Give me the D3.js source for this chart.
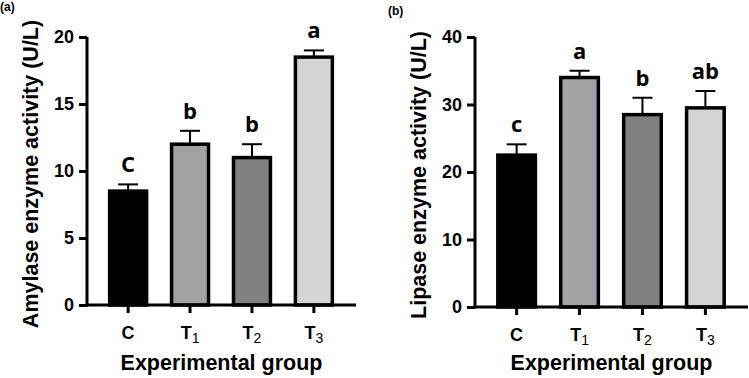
<!DOCTYPE html>
<html>
<head>
<meta charset="utf-8">
<script src="https://cdn.jsdelivr.net/npm/d3@7"></script>
<style>
  body { margin: 0; background: #fff; }
  svg text { font-family: "Liberation Sans", Arial, sans-serif; fill: #000; }
</style>
</head>
<body>
<div id="chart"></div>
<script>
const groups = ["C", "T1", "T2", "T3"];
const barColors = ["#000000", "#a2a2a6", "#808080", "#d4d4d4"];

const amylaseMean = [8.5, 12, 11, 18.5];
const amylaseErr = [0.5, 1.0, 1.0, 0.5];
const amylaseLetters = ["C", "b", "b", "a"];
const amylaseTicks = [0, 5, 10, 15, 20];

const lipaseMean = [22.5, 34, 28.5, 29.5];
const lipaseErr = [1.6, 1.0, 2.5, 2.5];
const lipaseLetters = ["c", "a", "b", "ab"];
const lipaseTicks = [0, 10, 20, 30, 40];

const svg = d3.select("#chart")
  .append("svg")
  .attr("width", 749)
  .attr("height", 378);

function drawPanel(opt) {
  const g = svg.append("g");

  const x = d3.scaleBand()
    .domain(groups)
    .range([opt.left + 10, opt.right - 11])
    .paddingInner(0.355)
    .paddingOuter(0.18);

  const y = d3.scaleLinear()
    .domain([0, opt.max])
    .range([opt.bottom, opt.top]);

  // bars
  g.selectAll("rect.bar")
    .data(groups)
    .join("rect")
    .attr("class", "bar")
    .attr("x", d => x(d) + 1.5)
    .attr("y", (d, i) => y(opt.mean[i]))
    .attr("width", x.bandwidth() - 3)
    .attr("height", (d, i) => opt.bottom - y(opt.mean[i]))
    .attr("fill", (d, i) => barColors[i])
    .attr("stroke", "#000")
    .attr("stroke-width", 3.5);

  // error bars (upper only)
  const eb = g.selectAll("g.err")
    .data(groups)
    .join("g")
    .attr("class", "err");
  eb.append("line")
    .attr("x1", d => x(d) + x.bandwidth() / 2)
    .attr("x2", d => x(d) + x.bandwidth() / 2)
    .attr("y1", (d, i) => y(opt.mean[i]))
    .attr("y2", (d, i) => y(opt.mean[i] + opt.err[i]))
    .attr("stroke", "#000")
    .attr("stroke-width", 2);
  eb.append("line")
    .attr("x1", d => x(d) + x.bandwidth() / 2 - 10)
    .attr("x2", d => x(d) + x.bandwidth() / 2 + 10)
    .attr("y1", (d, i) => y(opt.mean[i] + opt.err[i]))
    .attr("y2", (d, i) => y(opt.mean[i] + opt.err[i]))
    .attr("stroke", "#000")
    .attr("stroke-width", 2);

  // significance letters
  g.selectAll("text.sig")
    .data(groups)
    .join("text")
    .attr("class", "sig")
    .attr("x", d => x(d) + x.bandwidth() / 2)
    .attr("y", (d, i) => y(opt.mean[i] + opt.err[i]) - 12)
    .attr("text-anchor", "middle")
    .style("font-family", "'Open Sans', sans-serif")
    .style("font-size", "22px")
    .style("font-weight", "bold")
    .text((d, i) => opt.letters[i]);

  // y axis
  const yAxis = g.append("g")
    .attr("transform", `translate(${opt.left},0)`)
    .call(d3.axisLeft(y).tickValues(opt.ticks).tickSize(8).tickPadding(5).tickSizeOuter(0));
  yAxis.select(".domain").attr("stroke-width", 3).attr("d", `M0,${opt.bottom + 1.5}V${opt.top}`);
  yAxis.selectAll(".tick line").attr("stroke-width", 3);
  yAxis.selectAll(".tick text")
    .style("font-size", "18px")
    .style("font-weight", "bold");

  // x axis
  const xAxis = g.append("g")
    .attr("transform", `translate(0,${opt.bottom})`)
    .call(d3.axisBottom(x).tickSize(8).tickPadding(8).tickSizeOuter(0));
  xAxis.select(".domain").attr("stroke-width", 3).attr("d", `M${opt.left - 1.5},0H${opt.right}`);
  xAxis.selectAll(".tick line").attr("stroke-width", 3);
  xAxis.selectAll(".tick text").each(function (d) {
    const t = d3.select(this).text("")
      .style("font-size", "18px")
      .style("font-weight", "bold")
      .attr("dy", "1em");
    t.append("tspan").text(d[0]);
    if (d.length > 1) {
      t.append("tspan")
        .attr("dy", "0.3em")
        .style("font-size", "14px")
        .style("font-weight", "normal")
        .text(d.slice(1));
    }
  });

  // axis labels
  g.append("text")
    .attr("text-anchor", "middle")
    .attr("x", (opt.left + opt.right) / 2)
    .attr("y", 370)
    .style("font-size", "21.5px")
    .style("font-weight", "bold")
    .text("Experimental group");

  g.append("text")
    .attr("text-anchor", "middle")
    .attr("transform", `translate(${opt.labelX},${(opt.top + opt.bottom) / 2 + 3}) rotate(-90)`)
    .style("font-size", "21.5px")
    .style("font-weight", "bold")
    .text(opt.yLabel);

  g.append("text")
    .attr("x", opt.tagX)
    .attr("y", opt.tagY)
    .style("font-size", "12px")
    .style("font-weight", "bold")
    .text(opt.tag);
}

drawPanel({
  left: 87, right: 356, top: 37, bottom: 305, max: 20,
  mean: amylaseMean, err: amylaseErr, letters: amylaseLetters, ticks: amylaseTicks,
  yLabel: "Amylase enzyme activity (U/L)", labelX: 38, tag: "(a)", tagX: 0, tagY: 11
});

drawPanel({
  left: 475, right: 748, top: 37, bottom: 307, max: 40,
  mean: lipaseMean, err: lipaseErr, letters: lipaseLetters, ticks: lipaseTicks,
  yLabel: "Lipase enzyme activity (U/L)", labelX: 426, tag: "(b)", tagX: 388, tagY: 15
});
</script>
</body>
</html>
